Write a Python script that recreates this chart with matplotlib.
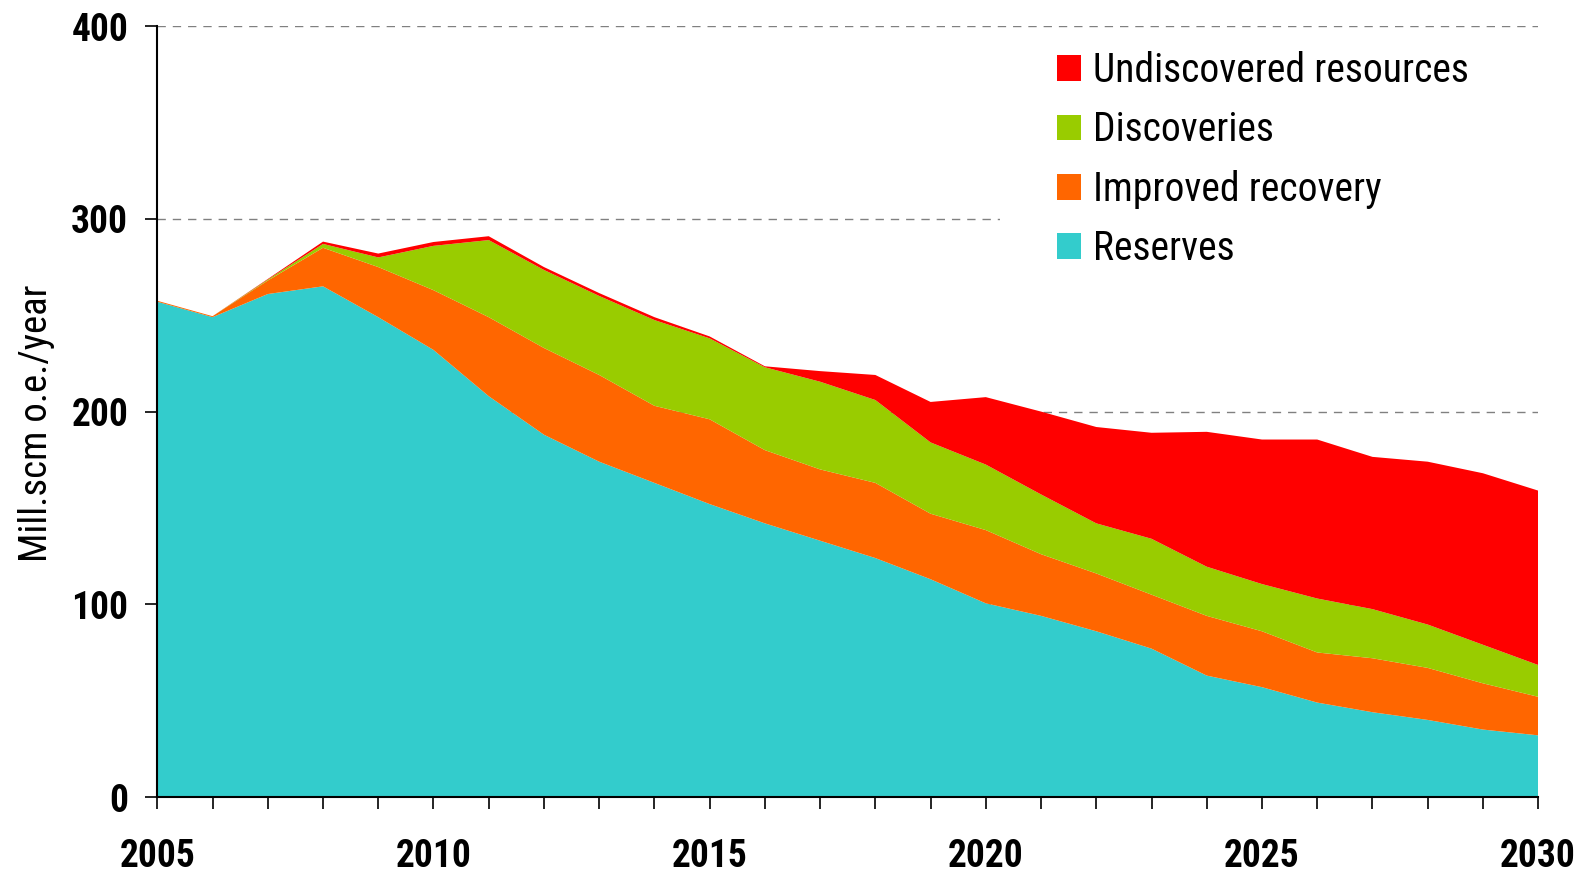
import numpy as np
import matplotlib
matplotlib.use("Agg")
import matplotlib.pyplot as plt
from matplotlib.patches import Rectangle

plt.rcParams['font.family'] = ['Roboto Condensed', 'Liberation Sans', 'DejaVu Sans']

years = list(range(2005, 2031))

# Mill. scm o.e. per year, stacked from the bottom up
reserves = [257, 249, 261, 265, 249, 232, 208, 188, 174, 163, 152, 142, 133,
            124, 113, 100.5, 94, 86, 77, 63, 57, 49, 44, 40, 35, 32]
improved_recovery = [0.5, 0.5, 7, 20, 26, 31, 41, 45, 45, 40, 44, 38, 37,
                     39, 34, 38, 32, 30, 28, 31, 29, 26, 28, 27, 24, 20]
discoveries = [0, 0, 0.5, 2, 5, 23, 40, 40.5, 41, 44.5, 42, 43, 45.5,
               43, 37, 34, 31, 26, 29, 25.5, 24.5, 28, 25.5, 22.5, 20, 16.5]
undiscovered = [0, 0, 0.3, 1.2, 2, 2, 2, 1.5, 1.5, 1.5, 1, 0.5, 5.5,
                13, 21, 35, 43, 50, 55, 70, 75, 82.5, 79, 84.5, 89, 90.5]

labels = ["Reserves", "Improved recovery", "Discoveries", "Undiscovered resources"]
colors = ["#33CCCC", "#FF6600", "#99CC00", "#FF0000"]

fig = plt.figure(figsize=(15.89, 8.72), dpi=100)
ax = fig.add_axes([0.099, 0.086, 0.869, 0.884])

for val in [100, 200, 300, 400]:
    ax.axhline(val, color="#808080", lw=1, ls=(0, (6, 5)), zorder=0)

polys = ax.stackplot(years, reserves, improved_recovery, discoveries, undiscovered,
                     colors=colors, labels=labels, lw=0, zorder=2)

ax.set_xlim(2005, 2030)
ax.set_ylim(0, 400)
ax.set_xticks(years, minor=True)
ax.set_xticks(range(2005, 2031, 5))
ax.set_yticks(range(0, 401, 100))

for side in ["top", "right"]:
    ax.spines[side].set_visible(False)
for side in ["left", "bottom"]:
    ax.spines[side].set_linewidth(1.5)

ax.tick_params(axis="x", which="both", direction="out", length=8.5, width=1.2,
               pad=21, labelsize=27)
ax.tick_params(axis="y", direction="out", length=9, width=1.2, pad=12, labelsize=27)
for t in ax.get_xticklabels() + ax.get_yticklabels():
    t.set_fontweight("bold")

ax.set_ylabel("Mill.scm o.e./year", fontsize=28)
ax.yaxis.set_label_coords(-0.074, 0.485)

# white background behind the legend (hides the grid line there)
ax.add_patch(Rectangle((0.61, 0.64), 0.39, 0.32, transform=ax.transAxes,
                       facecolor="white", edgecolor="none", zorder=1))

handles, labs = ax.get_legend_handles_labels()
ax.legend(handles[::-1], labs[::-1], loc="upper left", bbox_to_anchor=(0.64, 0.988),
          frameon=False, fontsize=28.5, handlelength=0.62, handleheight=0.62,
          handletextpad=0.3, labelspacing=0.51, borderaxespad=0)

fig.savefig("out.png", dpi=100)
